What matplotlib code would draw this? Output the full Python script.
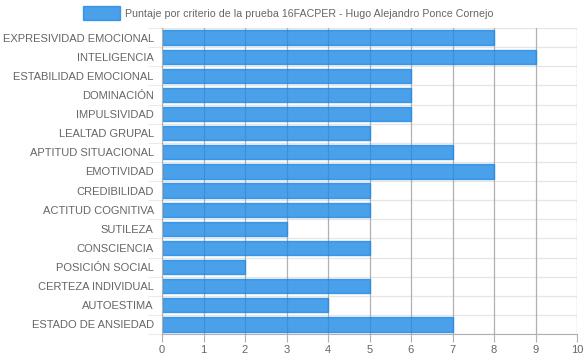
import matplotlib.pyplot as plt
import numpy as np
from matplotlib.patches import Patch

categorias = ["EXPRESIVIDAD EMOCIONAL", "INTELIGENCIA", "ESTABILIDAD EMOCIONAL",
              "DOMINACIÓN", "IMPULSIVIDAD", "LEALTAD GRUPAL", "APTITUD SITUACIONAL",
              "EMOTIVIDAD", "CREDIBILIDAD", "ACTITUD COGNITIVA", "SUTILEZA",
              "CONSCIENCIA", "POSICIÓN SOCIAL", "CERTEZA INDIVIDUAL", "AUTOESTIMA",
              "ESTADO DE ANSIEDAD"]
puntajes = [8, 9, 6, 6, 6, 5, 7, 8, 5, 5, 3, 5, 2, 5, 4, 7]
ticks_x = list(range(0, 11))
leyenda = "Puntaje por criterio de la prueba 16FACPER - Hugo Alejandro Ponce Cornejo"

plt.rcParams['font.family'] = ['Liberation Sans', 'DejaVu Sans']

fig = plt.figure(figsize=(5.84, 3.59), dpi=100)
ax = fig.add_axes([162 / 584, 1 - 334 / 359, 415 / 584, 306 / 359])

n = len(categorias)
y = np.arange(n)
ax.barh(y, puntajes, height=0.75, color='#1e88e5', alpha=0.8,
        edgecolor='#1e88e5', linewidth=1, zorder=2)

ax.set_xlim(0, 10)
ax.set_ylim(n - 0.5, -0.5)
ax.set_xticks(ticks_x)
ax.set_yticks(y)
ax.set_yticklabels(categorias)
ax.set_yticks(np.arange(n + 1) - 0.5, minor=True)

# cuadrícula al estilo Chart.js
for v in ticks_x:
    ax.axvline(v, color='#b0b0b0', linewidth=0.9, zorder=1)
for b in np.arange(n + 1) - 0.5:
    ax.axhline(b, color='#e6e6e6', linewidth=0.9, zorder=0.5)

for s in ax.spines.values():
    s.set_visible(False)
ax.spines['bottom'].set_visible(True)
ax.spines['bottom'].set_color('#b0b0b0')
ax.spines['left'].set_visible(True)
ax.spines['left'].set_color('#b0b0b0')

ax.tick_params(axis='x', length=6, color='#b0b0b0', labelsize=8, labelcolor='#666666', pad=2)
ax.tick_params(axis='y', which='major', length=0, labelsize=8, labelcolor='#666666', pad=6)
ax.tick_params(axis='y', which='minor', length=10, color='#e6e6e6')

handle = Patch(facecolor='#1e88e5', alpha=0.8, edgecolor='#1e88e5', linewidth=1)
fig.legend([handle], [leyenda], loc='center', bbox_to_anchor=(288 / 584, 1 - 13 / 359),
           frameon=False, fontsize=7.7, handlelength=3.5, handleheight=1.6,
           handletextpad=0.45, labelcolor='#666666')

fig.savefig("out.png", dpi=100)
